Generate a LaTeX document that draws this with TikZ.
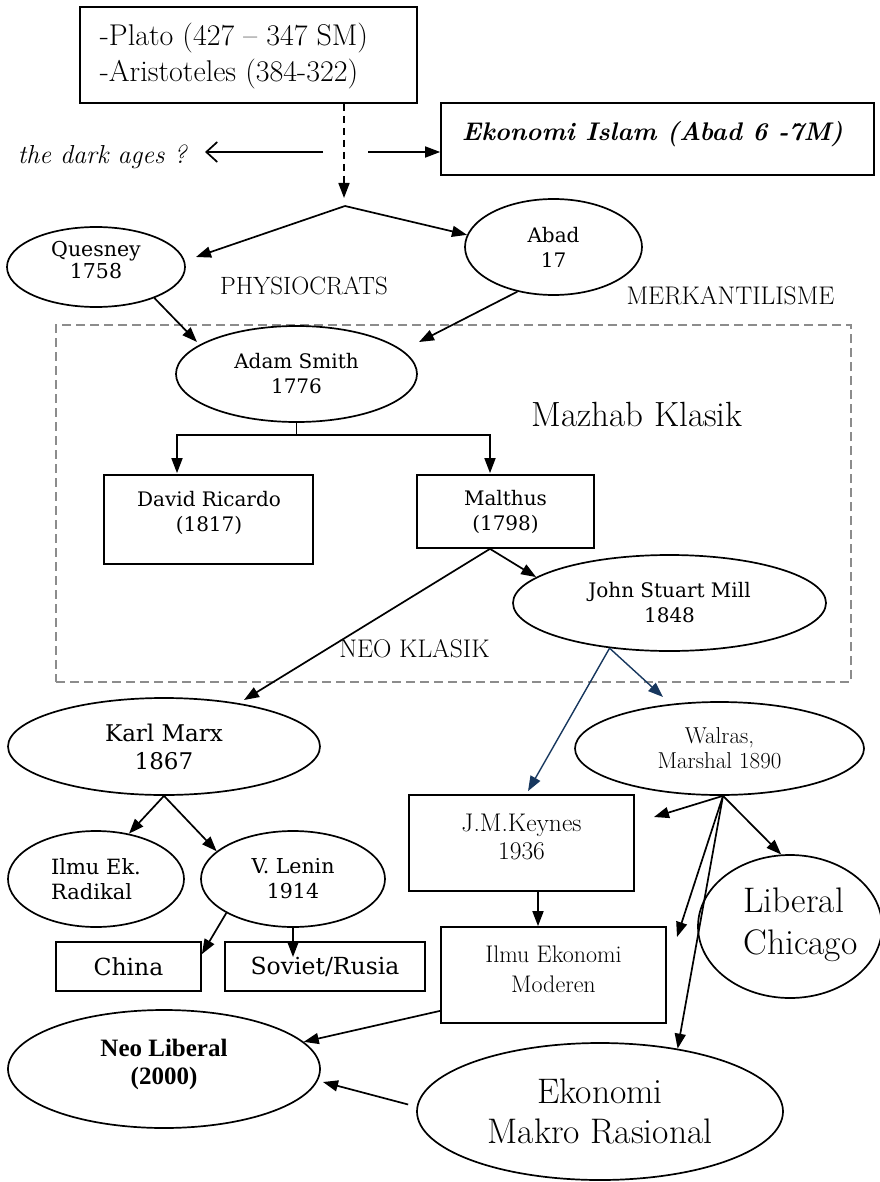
\documentclass[tikz,border=0pt]{standalone}
\usepackage{fontspec}
\newfontfamily\bkfont{DejaVu Serif}
\newfontfamily\tmsfont{Liberation Serif}
\usetikzlibrary{arrows.meta,shapes.geometric}
\definecolor{frameGray}{RGB}{140,140,140}
\definecolor{linkBlue}{RGB}{23,55,94}
\newcommand\fsz[2]{\fontsize{#1}{#2}\selectfont}

\begin{document}
\begin{tikzpicture}[x=1pt,y=-1pt,line width=1.7pt,
  arw/.style={-{Triangle[length=15pt,width=11pt]}},
  barw/.style={arw,color=linkBlue,line width=1.4pt},
  barb/.style={-{Straight Barb[length=11pt,width=20pt]}},
  dasharw/.style={arw,dash pattern=on 7pt off 5pt},
  ell/.style={draw,ellipse,inner sep=0pt,align=center},
  box/.style={draw,rectangle,inner sep=0pt,align=center},
  txt/.style={inner sep=0pt,align=center},
  frame/.style={draw=frameGray,dash pattern=on 9pt off 5pt,line width=1.4pt,inner sep=0pt},
]
\useasboundingbox (0,0) rectangle (879,1182);

% ---- the ancients and the medieval branch ----
\node[box,minimum width=337,minimum height=96] (plato) at (248.5,55) {};
\node[txt,align=left,anchor=west,font=\fsz{30}{36}] (platoT) at (99,56)
  {-Plato (427 -- 347 SM)\\-Aristoteles (384-322)};
\node[box,minimum width=433,minimum height=72] (islam) at (657.5,139) {};
\node[txt,font=\bfseries\itshape\fsz{25.5}{30}] (islamT) at (652.5,134)
  {Ekonomi Islam (Abad 6 -7M)};
\node[txt,anchor=west,font=\itshape\fsz{26}{30}] (dark) at (17,157) {the dark ages ?};

\coordinate (dtip) at (344,198);
\coordinate (fork) at (345,206);
\coordinate (dl) at (323,152);
\coordinate (dltip) at (205,152);
\coordinate (dr) at (368,152);
\draw[dasharw] (plato.south -| dtip) -- (dtip);
\draw[barb] (dl) -- (dltip);
\draw[arw] (dr) -- (dr -| islam.west);

% ---- physiocrats and mercantilists ----
\node[ell,minimum width=178,minimum height=80] (ques) at (96,267) {};
\node[txt,font=\bkfont\fsz{20.5}{22}] (quesT) at (96,260) {Quesney\\1758};
\node[ell,minimum width=177,minimum height=96,font=\bkfont\fsz{20}{25}] (abad) at (553.5,247) {Abad\\17};
\node[txt,font=\fsz{25}{28}] (physio) at (304,286) {PHYSIOCRATS};
\node[txt,font=\fsz{25.5}{28}] (merkan) at (730.5,296) {MERKANTILISME};

\coordinate (qtip) at (196,257);
\draw[arw] (fork) -- (qtip);
\draw[arw] (fork) -- (abad.172);

% ---- classical school ----
\node[frame,minimum width=795,minimum height=357] (klasik) at (453.5,503.5) {};
\node[ell,minimum width=241,minimum height=96,font=\bkfont\fsz{20}{25}] (adam) at (296.5,374) {Adam Smith\\1776};
\node[txt,font=\fsz{35}{38}] (mazhab) at (637,414) {Mazhab Klasik};
\node[box,minimum width=209,minimum height=89] (ricardo) at (208.5,519.5) {};
\node[txt,font=\bkfont\fsz{20}{25}] (ricardoT) at (209,513) {David Ricardo\\(1817)};
\node[box,minimum width=177,minimum height=73,font=\bkfont\fsz{20}{25}] (malthus) at (505.5,511.5) {Malthus\\(1798)};
\node[ell,minimum width=313,minimum height=96,font=\bkfont\fsz{20}{25}] (jsm) at (669.5,603) {John Stuart Mill\\1848};
\node[txt,font=\fsz{25.5}{28}] (neoklasik) at (414.5,649) {NEO KLASIK};

\coordinate (atipL) at (197,342);
\coordinate (atipR) at (419,342);
\draw[arw] (ques.-28) -- (atipL);
\draw[arw] (abad.231) -- (atipR);

\coordinate (bar) at (296.5,435);
\draw (adam.south) -- (bar);
\draw[arw] (bar) -| ([xshift=-31.5pt,yshift=1pt]ricardo.north);
\draw[arw] (bar) -| ([xshift=-15.5pt,yshift=1pt]malthus.north);

% ---- after the classics ----
\node[ell,minimum width=312,minimum height=97,font=\bkfont\fsz{23}{28}] (marx) at (164,746.5) {Karl Marx\\1867};
\node[ell,minimum width=289,minimum height=93,font=\fsz{23}{25}] (walras) at (719.5,748.5) {Walras,\\Marshal 1890};
\node[box,minimum width=225,minimum height=96] (keynes) at (521.5,843) {};
\node[txt,font=\fsz{25.5}{28}] (keynesT) at (521.5,837) {J.M.Keynes\\1936};

\coordinate (mb) at ([xshift=-15.5pt]malthus.south);
\coordinate (mxtip) at (244,700);
\coordinate (wtip) at (663,697);
\draw[arw] (mb) -- (mxtip);
\draw[arw] (mb) -- (jsm.169);
\draw[barw] (jsm.217) -- ([xshift=6.5pt,yshift=3pt]keynes.north);
\draw[barw] (jsm.217) -- (wtip);

% ---- the Marxian line ----
\node[ell,minimum width=176,minimum height=96,align=left,font=\bkfont\fsz{21}{25}] (ilmu) at (96,879) {Ilmu Ek.\\Radikal};
\node[ell,minimum width=184,minimum height=96,font=\bkfont\fsz{20.5}{25}] (lenin) at (293,879) {V. Lenin\\1914};
\node[box,minimum width=145,minimum height=49,font=\bkfont\fsz{23.5}{28}] (china) at (128.5,966.5) {China};
\node[box,minimum width=200,minimum height=49,font=\bkfont\fsz{23.5}{28}] (soviet) at (325,966.5) {Soviet/Rusia};

\coordinate (sovtip) at (293,957);
\draw[arw] (marx.south) -- (ilmu.54);
\draw[arw] (marx.south) -- (lenin.160);
\draw[arw] (lenin.207) -- ([yshift=-13pt]china.north east);
\draw[arw] (lenin.south) -- (sovtip);

% ---- modern economics ----
\node[box,minimum width=225,minimum height=96] (moderen) at (553.5,975) {};
\node[txt,font=\fsz{24}{30}] (moderenT) at (553.5,969) {Ilmu Ekonomi\\Moderen};
\node[ell,minimum width=184,minimum height=143] (chicago) at (790,926.5) {};
\node[txt,align=left,font=\fsz{35.5}{42}] (chicagoT) at (800.5,925) {Liberal\\Chicago};
\node[ell,minimum width=312,minimum height=118] (nl) at (164,1069) {};
\node[txt,font=\tmsfont\bfseries\fsz{25}{28}] (nlT) at (164,1064) {Neo Liberal\\(2000)};
\node[ell,minimum width=366,minimum height=137,font=\fsz{35.5}{40}] (makro) at (600,1111.5) {Ekonomi\\Makro Rasional};

\coordinate (kb) at ([xshift=16.5pt]keynes.south);
\draw[arw] (kb) -- (kb |- moderen.north);

\coordinate (wb) at ([xshift=3.5pt]walras.south);
\coordinate (ktip) at (654,817);
\coordinate (mtip) at (677,937);
\draw[arw] (wb) -- (ktip);
\draw[arw] (wb) -- (chicago.97);
\draw[arw] (wb) -- (mtip);
\draw[arw] (wb) -- (makro.39);

\coordinate (nltip) at (323,1082);
\draw[arw] ([yshift=13pt]moderen.south west) -- (nl.11);
\draw[arw] ([xshift=-8pt,yshift=7pt]makro.west) -- (nltip);
\end{tikzpicture}
\end{document}
